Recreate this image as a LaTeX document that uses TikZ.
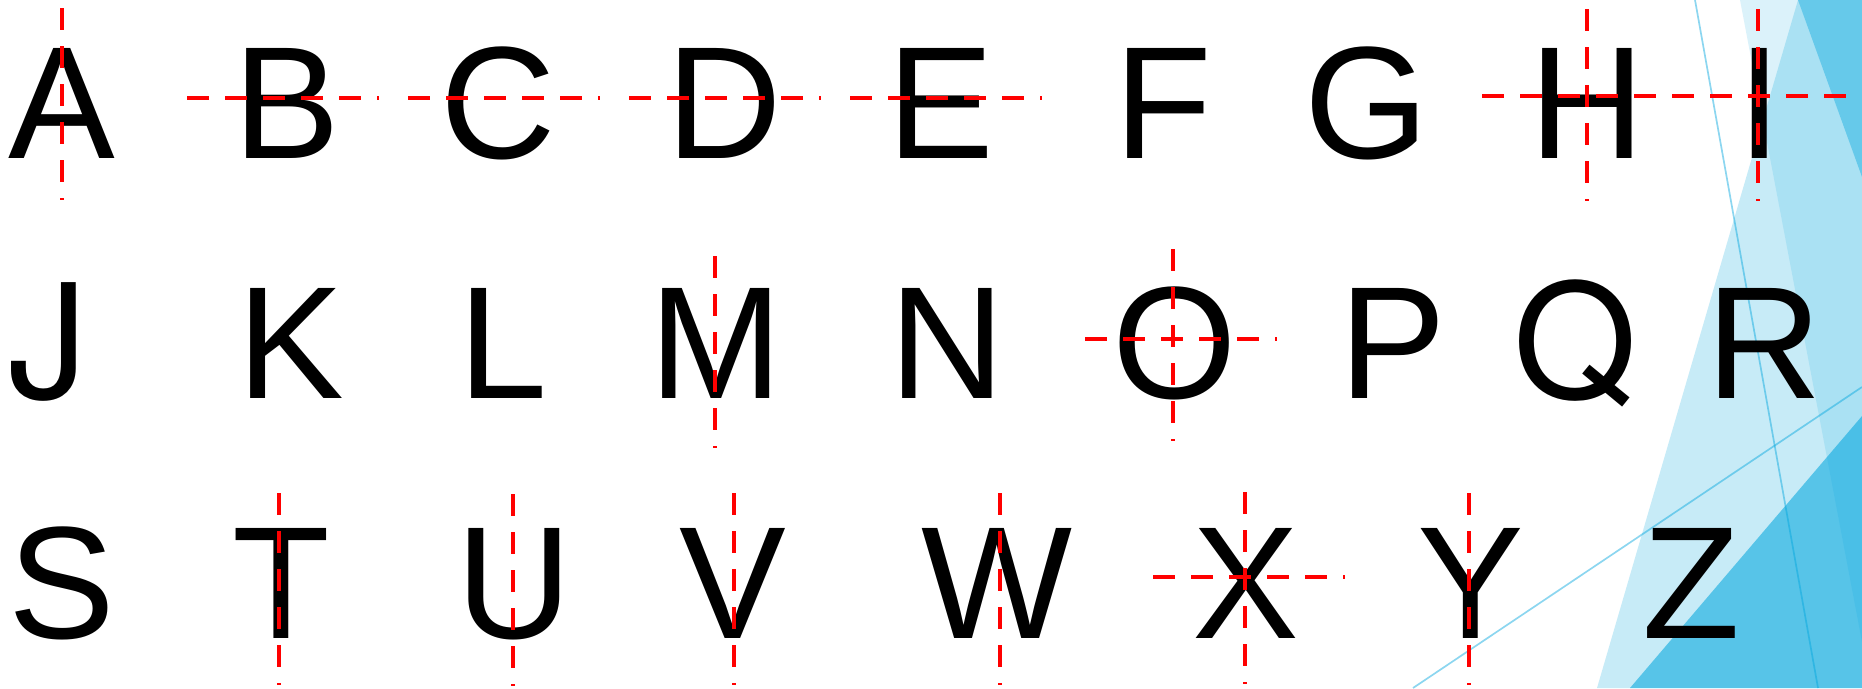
\documentclass[tikz,border=0pt]{standalone}
\usepackage{fontspec}
\setmainfont{Liberation Sans}
\newfontfamily\heros{TeX Gyre Heros}
\definecolor{facet}{RGB}{0,166,222}
\definecolor{guidered}{RGB}{255,0,0}
\tikzset{
  letter/.style={font=\fontsize{160}{192}\selectfont, anchor=base, inner sep=0pt, text=black},
  herosletter/.style={font=\heros\fontsize{159}{192}\selectfont, anchor=base, inner sep=0pt, text=black},
  guide/.style={draw=guidered, line width=4.7pt, dash pattern=on 22pt off 16pt, line cap=butt},
  facetline/.style={draw=facet, draw opacity=0.45, line width=1.7pt},
}
\begin{document}
\begin{tikzpicture}[x=1pt,y=-1pt]
\useasboundingbox (0,0) rectangle (1862,688);
\fill[white] (0,0) rectangle (1862,688);
% decorative facets
\begin{scope}
\clip (0,0) rectangle (1862,688);
\fill[facet, fill opacity=0.14] (1740,0) -- (1862,0) -- (1862,642) -- cycle;
\fill[facet, fill opacity=0.22] (1798,0) -- (1862,0) -- (1862,688) -- (1597,688) -- cycle;
\fill[facet, fill opacity=0.40] (1798,0) -- (1862,0) -- (1862,177) -- cycle;
\fill[facet, fill opacity=0.56] (1630,688) -- (1862,416) -- (1862,688) -- cycle;
\draw[facetline] (1695,0) -- (1818,688);
\draw[facetline] (1413,688) -- (1862,387);
\end{scope}
% letters row 1
\node[letter] (A) at (62,158) {A};
\node[letter] (B) at (287,158) {B};
\node[letter] (C) at (498,158) {C};
\node[letter] (D) at (724,158) {D};
\node[letter] (E) at (941,158) {E};
\node[letter] (F) at (1163,158) {F};
\node[letter] (G) at (1367,158) {G};
\node[letter] (H) at (1587,158) {H};
\node[letter] (I) at (1760,158) {I};
% row 2
\node[herosletter] (J) at (48,398) {J};
\node[letter] (K) at (291,398) {K};
\node[letter] (L) at (503,398) {L};
\node[letter] (M) at (716,398) {M};
\node[letter] (N) at (947,398) {N};
\node[letter] (O) at (1175,398) {O};
\node[letter] (P) at (1393,398) {P};
\node[herosletter] (Q) at (1575,398) {Q};
\node[letter] (R) at (1764,398) {R};
% row 3
\node[letter] (S) at (62,638) {S};
\node[letter] (T) at (281,638) {T};
\node[letter] (U) at (514,638) {U};
\node[letter] (V) at (733,638) {V};
\node[letter] (W) at (997,638) {W};
\node[letter] (X) at (1246,638) {X};
\node[letter] (Y) at (1471,638) {Y};
\node[letter] (Z) at (1691,638) {Z};
% red guide lines
\begin{scope}
\clip (0,0) rectangle (1862,688);
% vertical
\draw[guide] (62,8) -- (62,200);
\draw[guide] (1587,9) -- (1587,201);
\draw[guide] (1758,9) -- (1758,201);
\draw[guide] (715,256) -- (715,448);
\draw[guide] (1173,249) -- (1173,441);
\draw[guide] (279,493) -- (279,685);
\draw[guide] (513,494) -- (513,686);
\draw[guide] (734,493) -- (734,685);
\draw[guide] (1000,493) -- (1000,685);
\draw[guide] (1245,492) -- (1245,684);
\draw[guide] (1469,493) -- (1469,685);
% horizontal
\draw[guide] (187,98) -- (379,98);
\draw[guide] (408,98) -- (600,98);
\draw[guide] (629,98) -- (821,98);
\draw[guide] (850,98) -- (1042,98);
\draw[guide] (1482,96) -- (1880,96);
\draw[guide] (1085,339) -- (1277,339);
\draw[guide] (1153,577) -- (1345,577);
\end{scope}
\end{tikzpicture}
\end{document}
